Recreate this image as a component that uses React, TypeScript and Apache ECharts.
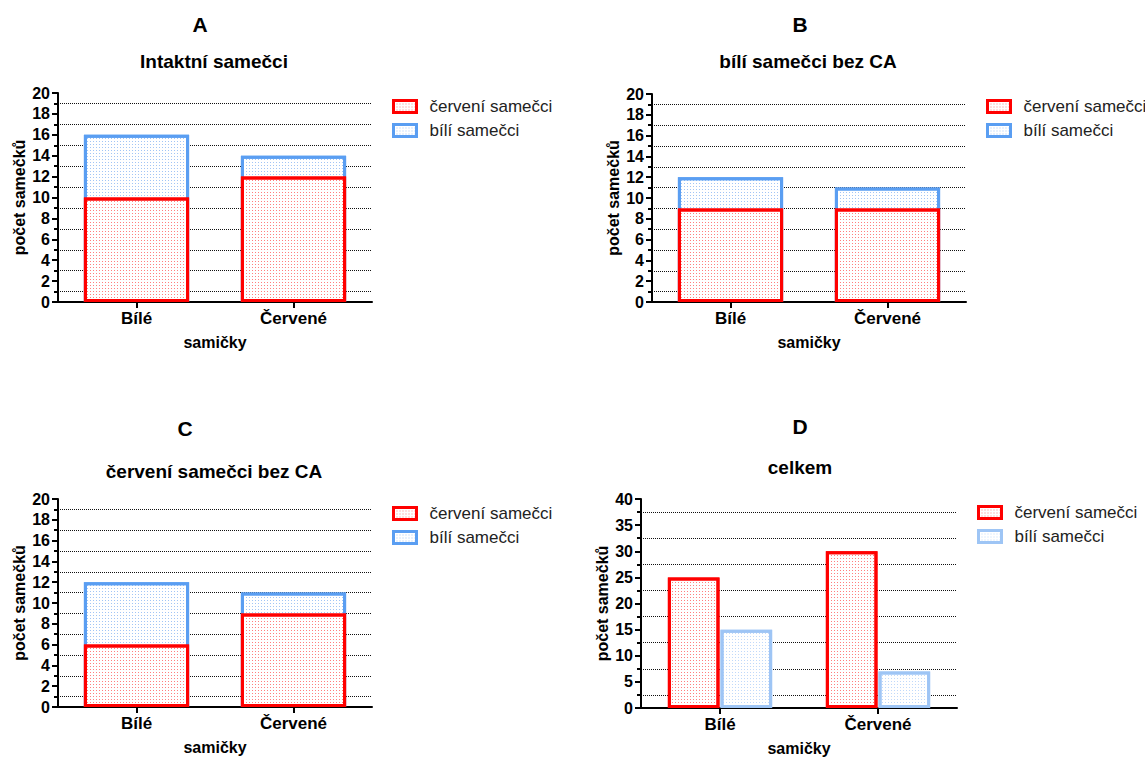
import React, { useEffect, useRef } from "react";
import * as echarts from "echarts";

const categories = ["Bílé", "Červené"];
const seriesNames = ["červení samečci", "bílí samečci"];

const panelLetters = ["A", "B", "C", "D"];
const panelTitles = ["Intaktní samečci", "bílí samečci bez CA", "červení samečci bez CA", "celkem"];

// stacked panels (A, B, C): red part + white part on top
const redA = [10, 12];
const whiteA = [6, 2];
const redB = [9, 9];
const whiteB = [3, 2];
const redC = [6, 9];
const whiteC = [6, 2];
// panel D: grouped totals
const redD = [25, 30];
const whiteD = [15, 7];

const yMaxABC = 20;
const yIntervalABC = 2;
const yMaxD = 40;
const yIntervalD = 5;

const yAxisName = "počet samečků";
const xAxisName = "samičky";

const FONT = '"Liberation Sans", Arial, Helvetica, sans-serif';
const RED = "#ff0000";
const BLUE = "#5a9ef2";
const BLUE_LIGHT = "#9ec5f5";

const decal = (color: string) => ({
  symbol: "rect",
  symbolSize: 1,
  dashArrayX: [1, 2],
  dashArrayY: [1, 2],
  color,
  rotation: 0,
});

const RED_DECAL = decal("rgba(255,0,0,0.5)");
const BLUE_DECAL = decal("rgba(70,140,235,0.5)");
const BLUE_LIGHT_DECAL = decal("rgba(140,185,245,0.55)");

const grids = [
  { left: 58, top: 93, width: 314, height: 209 },
  { left: 652, top: 94, width: 314, height: 208 },
  { left: 58, top: 499, width: 314, height: 208 },
  { left: 641, top: 499, width: 316, height: 209 },
];

const letterPos = [
  { x: 200, y: 14 },
  { x: 800, y: 14 },
  { x: 185, y: 418 },
  { x: 800, y: 416 },
];
const subtitlePos = [
  { x: 214, y: 52 },
  { x: 808, y: 52 },
  { x: 214, y: 462 },
  { x: 800, y: 458 },
];
const legendPos = [
  { x: 392, y: 98 },
  { x: 986, y: 98 },
  { x: 392, y: 505 },
  { x: 977, y: 504 },
];

export default function App() {
  const ref = useRef<HTMLDivElement>(null);

  useEffect(() => {
    if (!ref.current) return;
    const chart = echarts.init(ref.current, undefined, { renderer: "svg" });

    const title: any[] = [];
    panelLetters.forEach((l, i) => {
      title.push({
        text: l,
        left: letterPos[i].x,
        top: letterPos[i].y,
        textAlign: "center",
        padding: 0,
        textStyle: { fontFamily: FONT, fontWeight: "bold", fontSize: 21, color: "#000" },
      });
      title.push({
        text: panelTitles[i],
        left: subtitlePos[i].x,
        top: subtitlePos[i].y,
        textAlign: "center",
        padding: 0,
        textStyle: { fontFamily: FONT, fontWeight: "bold", fontSize: 19, color: "#000" },
      });
    });

    const xAxis = grids.map((_, i) => ({
      type: "category",
      gridIndex: i,
      data: categories,
      axisLine: { show: true, lineStyle: { color: "#000", width: 2 } },
      axisTick: { show: true, alignWithLabel: true, length: 6, lineStyle: { color: "#000", width: 2 } },
      axisLabel: { fontFamily: FONT, fontWeight: "bold", fontSize: 17, color: "#000", margin: 8 },
      name: xAxisName,
      nameLocation: "middle",
      nameGap: 32,
      nameTextStyle: { fontFamily: FONT, fontWeight: "bold", fontSize: 16, color: "#000" },
      splitLine: { show: false },
    }));

    const yAxis = grids.map((_, i) => {
      const isD = i === 3;
      return {
        type: "value",
        gridIndex: i,
        min: 0,
        max: isD ? yMaxD : yMaxABC,
        interval: isD ? yIntervalD : yIntervalABC,
        axisLine: { show: true, lineStyle: { color: "#000", width: 2 } },
        axisTick: { show: true, length: 6, lineStyle: { color: "#000", width: 2 } },
        minorTick: { show: true, splitNumber: 2, length: 4, lineStyle: { color: "#000", width: 2 } },
        splitLine: { show: false },
        minorSplitLine: { show: true, lineStyle: { color: "#111", width: 1, type: [1, 1] } },
        axisLabel: { fontFamily: FONT, fontWeight: "bold", fontSize: 16, color: "#000", margin: 8 },
        name: yAxisName,
        nameLocation: "middle",
        nameGap: 31,
        nameTextStyle: { fontFamily: FONT, fontWeight: "bold", fontSize: 16, color: "#000" },
      };
    });

    const stacked = [
      [redA, whiteA],
      [redB, whiteB],
      [redC, whiteC],
    ];

    const series: any[] = [];
    stacked.forEach(([red, white], i) => {
      series.push({
        type: "bar",
        name: seriesNames[1],
        xAxisIndex: i,
        yAxisIndex: i,
        stack: "w" + i,
        z: 2,
        barCategoryGap: "33%",
        barGap: "-100%",
        data: red.map((r, k) => r + white[k]),
        itemStyle: { color: "#fff", borderColor: BLUE, borderWidth: 3, decal: BLUE_DECAL },
      });
      series.push({
        type: "bar",
        name: seriesNames[0],
        xAxisIndex: i,
        yAxisIndex: i,
        stack: "r" + i,
        z: 3,
        barCategoryGap: "33%",
        barGap: "-100%",
        data: red,
        itemStyle: { color: "#fff", borderColor: RED, borderWidth: 3, decal: RED_DECAL },
      });
    });
    series.push({
      type: "bar",
      name: seriesNames[0],
      xAxisIndex: 3,
      yAxisIndex: 3,
      barCategoryGap: "34%",
      barGap: "2%",
      data: redD,
      itemStyle: { color: "#fff", borderColor: RED, borderWidth: 3, decal: RED_DECAL },
    });
    series.push({
      type: "bar",
      name: seriesNames[1],
      xAxisIndex: 3,
      yAxisIndex: 3,
      barCategoryGap: "34%",
      barGap: "2%",
      data: whiteD,
      itemStyle: { color: "#fff", borderColor: BLUE_LIGHT, borderWidth: 3, decal: BLUE_LIGHT_DECAL },
    });

    const legend = legendPos.map((p, i) => ({
      orient: "vertical",
      left: p.x,
      top: p.y,
      padding: 0,
      itemGap: 7,
      itemWidth: 23,
      itemHeight: 12,
      icon: "rect",
      selectedMode: false,
      textStyle: { fontFamily: FONT, fontSize: 17, color: "#222", padding: [0, 0, 0, 8] },
      data:
        i === 3
          ? [
              { name: seriesNames[0], itemStyle: { color: "#fff", borderColor: RED, borderWidth: 3, decal: RED_DECAL } },
              {
                name: seriesNames[1],
                itemStyle: { color: "#fff", borderColor: BLUE_LIGHT, borderWidth: 3, decal: BLUE_LIGHT_DECAL },
              },
            ]
          : [
              { name: seriesNames[0], itemStyle: { color: "#fff", borderColor: RED, borderWidth: 3, decal: RED_DECAL } },
              { name: seriesNames[1], itemStyle: { color: "#fff", borderColor: BLUE, borderWidth: 3, decal: BLUE_DECAL } },
            ],
    }));

    chart.setOption({
      animation: false,
      backgroundColor: "#fff",
      title,
      legend,
      grid: grids.map((g) => ({ ...g, containLabel: false })),
      xAxis,
      yAxis,
      series,
    });

    return () => chart.dispose();
  }, []);

  return (
    <div
      ref={ref}
      style={{ position: "absolute", left: 0, top: 0, width: 1145, height: 758, background: "#fff" }}
    />
  );
}
